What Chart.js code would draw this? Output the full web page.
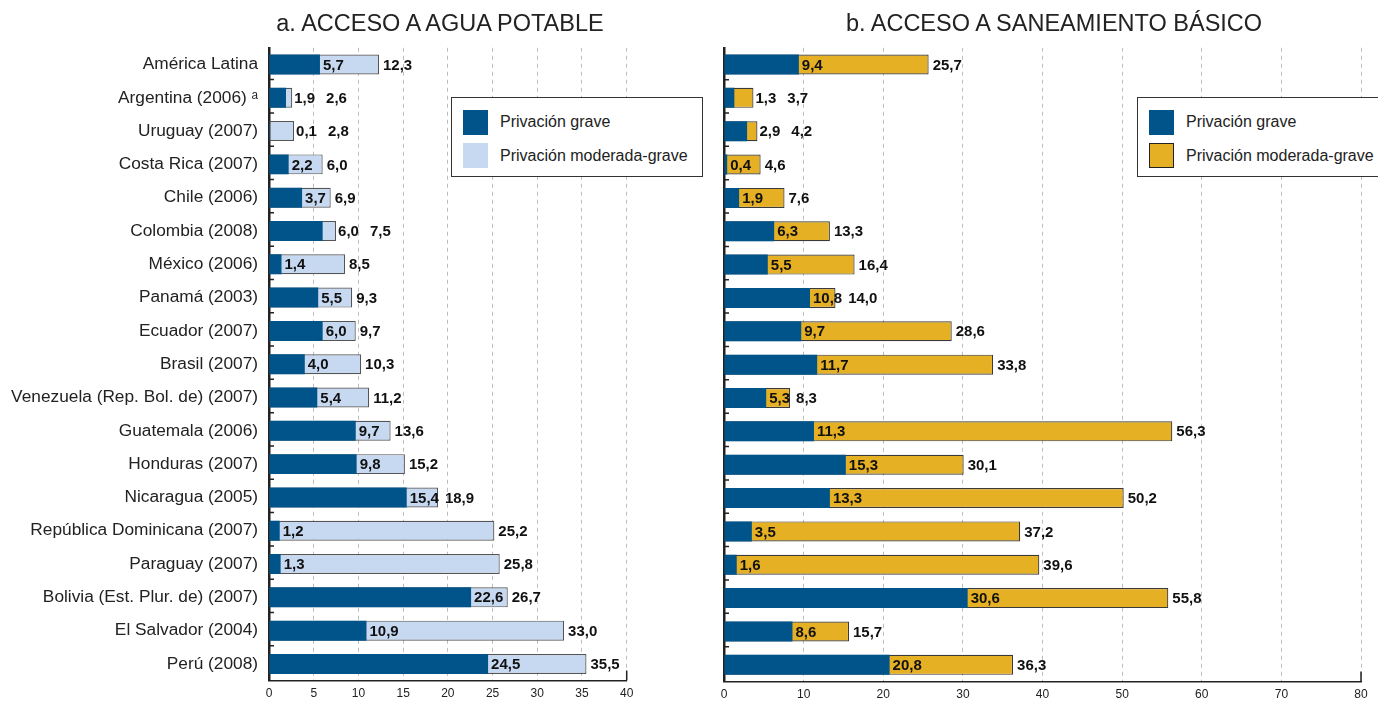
<!DOCTYPE html>
<html lang="es">
<head>
<meta charset="utf-8">
<title>Acceso a agua potable y saneamiento básico</title>
<script src="https://cdn.jsdelivr.net/npm/chart.js@4.4.1/dist/chart.umd.min.js"></script>
<style>
	body { margin: 0; background: #fff; font-family: 'Liberation Sans', Arial, sans-serif; color: #222; }
	#page { position: relative; width: 1378px; height: 702px; overflow: hidden; }
	canvas { position: absolute; top: 0; }
	.title { position: absolute; top: 12px; font-size: 23.5px; line-height: 1; white-space: nowrap; transform: translateX(-50%); color: #222; }
	.legend { position: absolute; top: 97px; height: 80px; border: 1.5px solid #333; background: #fff; box-sizing: border-box; }
	.legend .sq { position: absolute; left: 11px; width: 25px; height: 25px; box-sizing: border-box; }
	.legend .tx { position: absolute; left: 48px; font-size: 16px; line-height: 16px; white-space: nowrap; color: #222; }
</style>
</head>
<body>
<div id="page">
	<canvas id="chartA" width="690" height="702" style="left:0"></canvas>
	<canvas id="chartB" width="688" height="702" style="left:690px"></canvas>

	<div class="title" style="left:440px">a. ACCESO A AGUA POTABLE</div>
	<div class="title" style="left:1054px">b. ACCESO A SANEAMIENTO BÁSICO</div>

	<div class="legend" style="left:451px; width:252px">
		<div class="sq" style="top:12px; background:#00548a"></div>
		<div class="tx" style="top:16px">Privación grave</div>
		<div class="sq" style="top:45px; background:#c6d9f1"></div>
		<div class="tx" style="top:50px">Privación moderada-grave</div>
	</div>
	<div class="legend" style="left:1137px; width:260px">
		<div class="sq" style="top:12px; background:#00548a"></div>
		<div class="tx" style="top:16px">Privación grave</div>
		<div class="sq" style="top:45px; background:#e6b024; border:1.5px solid #222"></div>
		<div class="tx" style="top:50px">Privación moderada-grave</div>
	</div>
</div>

<script>
var paises = ['América Latina', 'Argentina (2006) ᵃ', 'Uruguay (2007)', 'Costa Rica (2007)', 'Chile (2006)',
	'Colombia (2008)', 'México (2006)', 'Panamá (2003)', 'Ecuador (2007)', 'Brasil (2007)',
	'Venezuela (Rep. Bol. de) (2007)', 'Guatemala (2006)', 'Honduras (2007)', 'Nicaragua (2005)',
	'República Dominicana (2007)', 'Paraguay (2007)', 'Bolivia (Est. Plur. de) (2007)', 'El Salvador (2004)', 'Perú (2008)'];

// a. agua potable
var aguaGrave = [5.7, 1.9, 0.1, 2.2, 3.7, 6.0, 1.4, 5.5, 6.0, 4.0, 5.4, 9.7, 9.8, 15.4, 1.2, 1.3, 22.6, 10.9, 24.5];
var aguaModGrave = [12.3, 2.6, 2.8, 6.0, 6.9, 7.5, 8.5, 9.3, 9.7, 10.3, 11.2, 13.6, 15.2, 18.9, 25.2, 25.8, 26.7, 33.0, 35.5];

// b. saneamiento basico
var sanGrave = [9.4, 1.3, 2.9, 0.4, 1.9, 6.3, 5.5, 10.8, 9.7, 11.7, 5.3, 11.3, 15.3, 13.3, 3.5, 1.6, 30.6, 8.6, 20.8];
var sanModGrave = [25.7, 3.7, 4.2, 4.6, 7.6, 13.3, 16.4, 14.0, 28.6, 33.8, 8.3, 56.3, 30.1, 50.2, 37.2, 39.6, 55.8, 15.7, 36.3];

var FONT = "'Liberation Sans', Arial, sans-serif";

function fmt(v) {
	return v.toFixed(1).replace('.', ',');
}

// etiquetas de valor: grave al final de la barra oscura, total al final de la barra
var valueLabels = {
	id: 'valueLabels',
	afterDatasetsDraw: function (chart) {
		var ctx = chart.ctx;
		var g = chart.getDatasetMeta(0).data;
		var t = chart.getDatasetMeta(1).data;
		var gv = chart.data.datasets[0].data;
		var tv = chart.data.datasets[1].data;
		ctx.save();
		ctx.font = 'bold 15px ' + FONT;
		ctx.fillStyle = '#111';
		ctx.textBaseline = 'middle';
		ctx.textAlign = 'left';
		for (var i = 0; i < gv.length; i++) {
			var y = t[i].y + 1;
			var gs = fmt(gv[i]), ts = fmt(tv[i]);
			var gw = ctx.measureText(gs).width;
			if (tv[i] - gv[i] >= 2.9) {
				ctx.fillText(gs, g[i].x + 3, y);
				ctx.fillText(ts, Math.max(t[i].x + 4, g[i].x + 3 + gw + 6), y);
			} else {
				var x = t[i].x + 2;
				ctx.fillText(gs, x, y);
				ctx.fillText(ts, x + gw + 11, y);
			}
		}
		ctx.restore();
	}
};

// marcas pequeñas del eje vertical y marca final del eje horizontal
var axisMarks = {
	id: 'axisMarks',
	afterDraw: function (chart) {
		var ctx = chart.ctx, a = chart.chartArea, ys = chart.scales.y;
		ctx.save();
		ctx.strokeStyle = '#222';
		ctx.lineWidth = 1.5;
		ctx.beginPath();
		for (var i = 0; i < chart.data.labels.length - 1; i++) {
			var yy = (ys.getPixelForValue(i) + ys.getPixelForValue(i + 1)) / 2 - 1.5;
			ctx.moveTo(a.left, yy);
			ctx.lineTo(a.left + 5, yy);
		}
		ctx.moveTo(a.right, a.bottom);
		ctx.lineTo(a.right, a.bottom - 10);
		ctx.stroke();
		ctx.restore();
	}
};

function makeChart(id, grave, modGrave, modColor, modBorder, max, step, yWidth, padRight, showNames) {
	return new Chart(document.getElementById(id), {
		type: 'bar',
		data: {
			labels: paises,
			datasets: [
				{ label: 'Privación grave', data: grave, backgroundColor: '#00548a', borderWidth: 0,
					grouped: false, barPercentage: 0.6, categoryPercentage: 1 },
				{ label: 'Privación moderada-grave', data: modGrave, backgroundColor: modColor,
					borderColor: modBorder, borderWidth: 1.2, borderSkipped: false,
					grouped: false, barPercentage: 0.6, categoryPercentage: 1 }
			]
		},
		options: {
			indexAxis: 'y',
			responsive: false,
			animation: false,
			events: [],
			layout: { padding: { top: 47.8, right: padRight, bottom: 0, left: 0 } },
			plugins: { legend: { display: false }, tooltip: { enabled: false } },
			scales: {
				x: {
					min: 0, max: max,
					ticks: { stepSize: step, maxRotation: 0, padding: 6, color: '#222', font: { family: FONT, size: 12 } },
					grid: {
						drawTicks: false, lineWidth: 1,
						color: function (c) { return c.tick && c.tick.value === 0 ? 'rgba(0,0,0,0)' : '#bdbdbd'; }
					},
					border: { display: true, color: '#222', width: 1.5, dash: [4, 4] },
					afterFit: function (s) { s.height = 20.5; }
				},
				y: {
					ticks: { display: showNames, autoSkip: false, padding: 11, color: '#222', font: { family: FONT, size: 17.3 } },
					grid: { display: false, drawTicks: false },
					border: { display: true, color: '#222', width: 2.5 },
					afterFit: function (s) { s.width = yWidth; }
				}
			}
		},
		plugins: [valueLabels, axisMarks]
	});
}

makeChart('chartA', aguaGrave, aguaModGrave, '#c6d9f1', '#555', 40, 5, 269, 63.3, true);
makeChart('chartB', sanGrave, sanModGrave, '#e6b024', '#3a3a3a', 80, 10, 34, 17, false);
</script>
</body>
</html>
